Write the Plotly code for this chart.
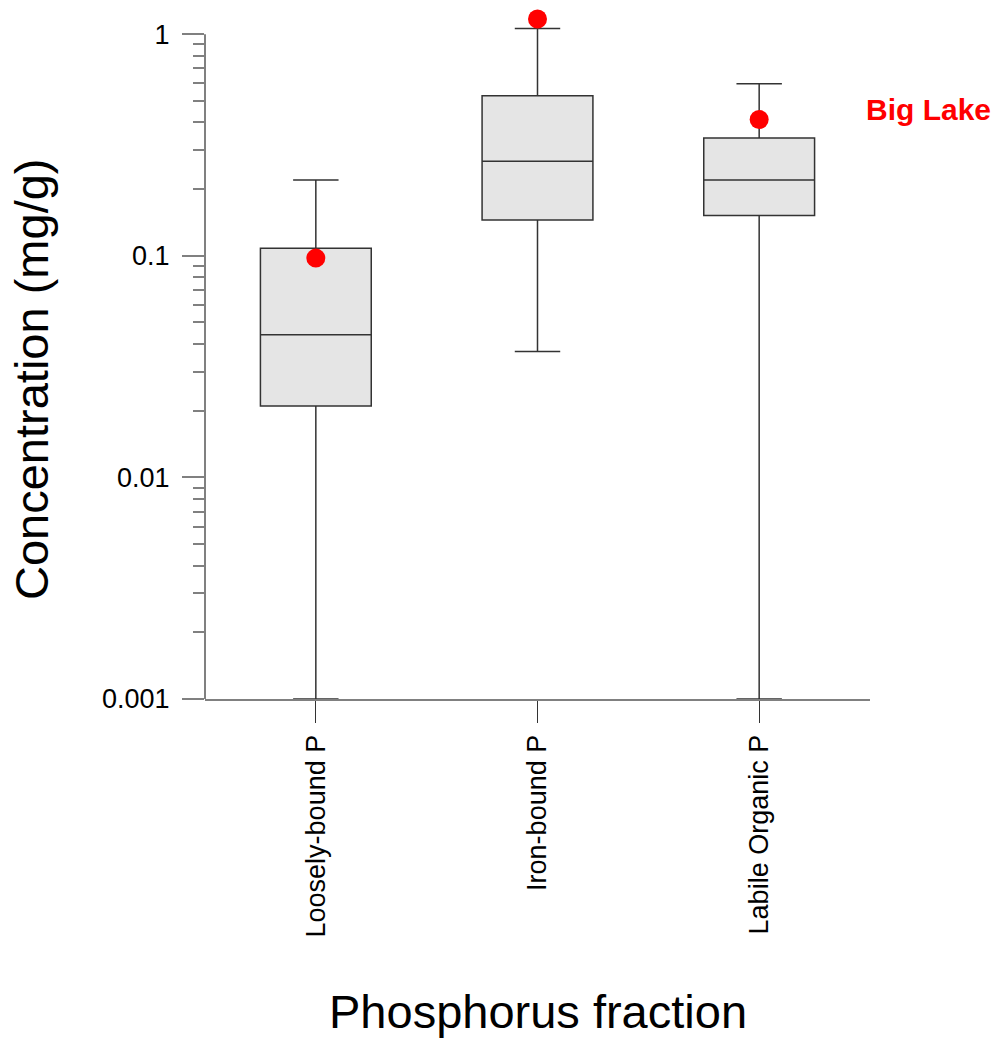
import plotly.graph_objects as go

# Phosphorus fractions and their summary statistics (mg/g)
fractions = ["Loosely-bound P", "Iron-bound P", "Labile Organic P"]
lower_whisker = [0.001, 0.037, 0.001]
q1 = [0.021, 0.145, 0.152]
median = [0.044, 0.267, 0.220]
q3 = [0.108, 0.527, 0.340]
upper_whisker = [0.220, 1.06, 0.597]

# Big Lake sediment values
big_lake = [0.0976, 1.17, 0.412]

y_tick_vals = [0.001, 0.01, 0.1, 1]
y_tick_text = ["0.001", "0.01", "0.1", "1"]

font_family = "Arial, Liberation Sans, sans-serif"

# log10 range of the value axis; a little headroom above 1 keeps the
# highest whisker cap and marker visible
y_log_min, y_log_max = -3, 0.1
axis_top_frac = (0 - y_log_min) / (y_log_max - y_log_min)

# plot-area geometry in pixels
L, R, T, B = 205, 138, 12, 345
W, H = 1008, 1044
pw, ph = W - L - R, H - T - B


def px_to_paper(px, py):
    return (px - L) / pw, (H - B - py) / ph


fig = go.Figure()

fig.add_trace(go.Box(
    x=fractions,
    q1=q1,
    median=median,
    q3=q3,
    lowerfence=lower_whisker,
    upperfence=upper_whisker,
    width=0.5,
    whiskerwidth=0.41,
    fillcolor="#e5e5e5",
    line=dict(color="#333333", width=1.5),
    boxpoints=False,
    showlegend=False,
    hoverinfo="y",
))

fig.add_trace(go.Scatter(
    x=fractions,
    y=big_lake,
    mode="markers",
    marker=dict(color="#ff0000", size=19),
    cliponaxis=False,
    showlegend=False,
    name="Big Lake",
))

# value axis line, running from 0.001 up to 1
fig.add_shape(
    type="line", xref="paper", yref="paper",
    x0=0, x1=0, y0=0, y1=axis_top_frac,
    line=dict(color="#808080", width=2),
)

bx, by = px_to_paper(929, 109)
fig.add_annotation(
    text="<b>Big Lake</b>",
    xref="paper", yref="paper", x=bx, y=by,
    xanchor="center", yanchor="middle", showarrow=False,
    font=dict(family=font_family, size=30, color="#ff0000"),
)

tx, ty = px_to_paper(31, 380)
fig.add_annotation(
    text="Concentration (mg/g)",
    xref="paper", yref="paper", x=tx, y=ty,
    xanchor="center", yanchor="middle", showarrow=False, textangle=-90,
    font=dict(family=font_family, size=47, color="#000000"),
)

tx, ty = px_to_paper(537.5, 1011)
fig.add_annotation(
    text="Phosphorus fraction",
    xref="paper", yref="paper", x=tx, y=ty,
    xanchor="center", yanchor="middle", showarrow=False,
    font=dict(family=font_family, size=47, color="#000000"),
)

fig.update_layout(
    width=W, height=H,
    margin=dict(l=L, r=R, t=T, b=B),
    paper_bgcolor="white",
    plot_bgcolor="white",
    font=dict(family=font_family, color="#000000"),
    xaxis=dict(
        type="category",
        range=[-0.5, 2.5],
        showline=True, linecolor="#808080", linewidth=2,
        ticks="outside", ticklen=22, tickwidth=1, tickcolor="#333333",
        tickangle=-90,
        tickfont=dict(size=27),
        ticklabelstandoff=1,
        showgrid=False, zeroline=False,
    ),
    yaxis=dict(
        type="log",
        range=[y_log_min, y_log_max],
        showline=False,
        tickvals=y_tick_vals, ticktext=y_tick_text,
        ticks="outside", ticklen=22, tickwidth=2, tickcolor="#808080",
        tickfont=dict(size=27),
        ticklabelstandoff=7,
        minor=dict(ticks="outside", ticklen=11, tickwidth=2, tickcolor="#808080",
                   dtick="D1", showgrid=False),
        showgrid=False, zeroline=False,
    ),
)

fig.write_html("out.html")
